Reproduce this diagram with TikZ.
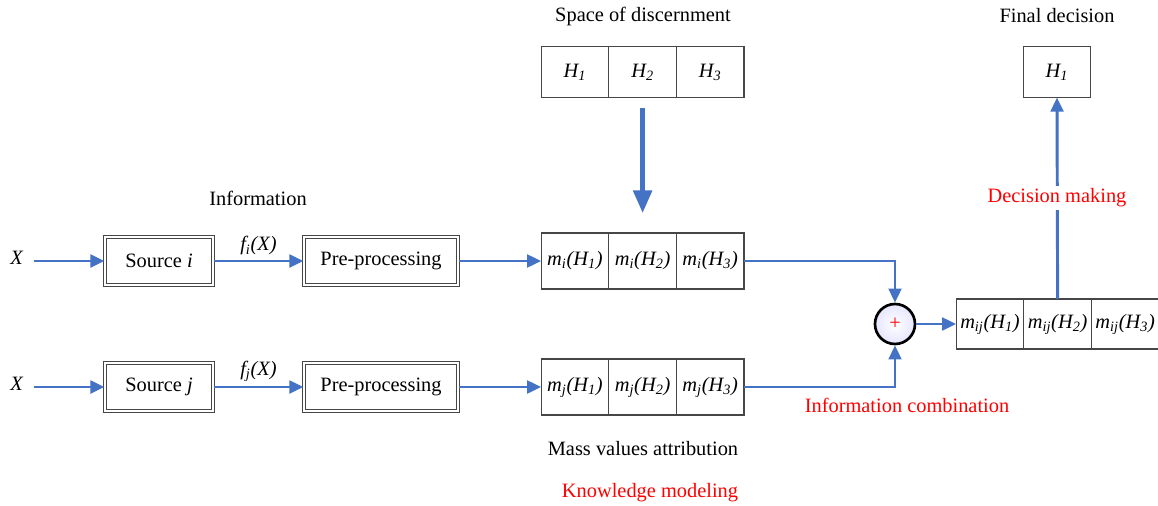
\documentclass[tikz,border=0pt]{standalone}
\usepackage{fontspec}
\setmainfont{Liberation Serif}
\usetikzlibrary{arrows.meta,positioning}

\definecolor{flowblue}{RGB}{68,114,196}
\definecolor{boxgray}{RGB}{70,70,70}

\tikzset{
  flow/.style={-{Triangle[length=10pt,width=9pt]}, line width=2.1pt, draw=flowblue},
  block/.style={rectangle, draw=boxgray, double, double distance=1.5pt, line width=0.7pt,
                minimum height=1.2cm, inner sep=2pt},
  cell/.style={rectangle, draw=boxgray, line width=0.8pt, outer sep=0pt,
               minimum width=1.69cm, minimum height=1.3cm, inner sep=1pt},
  caption/.style={inner sep=1pt},
  redcap/.style={inner sep=1pt, text=red}
}

\begin{document}
\begin{tikzpicture}[x=0.025cm, y=-0.025cm, font=\fontsize{14.5}{17}\selectfont]
    \useasboundingbox (0,0) rectangle (1158,506);

    % Eingang und Quellen
    \node[caption] (xi) at (17,258) {\textit{X}};
    \node[caption] (xj) at (17,384) {\textit{X}};
    \node[block, minimum width=2.7cm] (srci) at (159,261) {Source \textit{i}};
    \node[block, minimum width=2.7cm] (srcj) at (159,387) {Source \textit{j}};
    \node[caption] (info) at (258,198) {Information};

    % Vorverarbeitung
    \node[block, minimum width=3.85cm] (prei) at (381,261) {Pre-processing};
    \node[block, minimum width=3.85cm] (prej) at (381,387) {Pre-processing};

    % Massenwerte
    \node[cell, minimum height=1.4cm] (mi1) at (575,261) {\textit{m\textsubscript{i}(H\textsubscript{1})}};
    \node[cell, minimum height=1.4cm, right=0pt of mi1] (mi2) {\textit{m\textsubscript{i}(H\textsubscript{2})}};
    \node[cell, minimum height=1.4cm, right=0pt of mi2] (mi3) {\textit{m\textsubscript{i}(H\textsubscript{3})}};
    \node[cell, minimum height=1.4cm] (mj1) at (575,387) {\textit{m\textsubscript{j}(H\textsubscript{1})}};
    \node[cell, minimum height=1.4cm, right=0pt of mj1] (mj2) {\textit{m\textsubscript{j}(H\textsubscript{2})}};
    \node[cell, minimum height=1.4cm, right=0pt of mj2] (mj3) {\textit{m\textsubscript{j}(H\textsubscript{3})}};
    \node[caption] (mass) at (643,449) {Mass values attribution};
    \node[redcap] (know) at (650,493) {Knowledge modeling};

    % Unterscheidungsraum
    \node[cell, minimum height=1.275cm] (h1) at (575,72) {\textit{H\textsubscript{1}}};
    \node[cell, minimum height=1.275cm, right=0pt of h1] (h2) {\textit{H\textsubscript{2}}};
    \node[cell, minimum height=1.275cm, right=0pt of h2] (h3) {\textit{H\textsubscript{3}}};
    \node[caption] (space) at (643,16) {Space of discernment};

    % Kombination
    \node[circle, draw=black, line width=1.9pt, inner color=white, outer color=blue!10, minimum size=1cm, inner sep=0pt, text=red] (sum) at (895,324) {+};
    \node[redcap] (comb) at (907,405) {Information combination};
    \node[cell, minimum height=1.25cm] (mij1) at (990,324) {\textit{m\textsubscript{ij}(H\textsubscript{1})}};
    \node[cell, minimum height=1.25cm, right=0pt of mij1] (mij2) {\textit{m\textsubscript{ij}(H\textsubscript{2})}};
    \node[cell, minimum height=1.25cm, right=0pt of mij2] (mij3) {\textit{m\textsubscript{ij}(H\textsubscript{3})}};

    % Entscheidung
    \node[cell, minimum height=1.275cm] (fin) at (1057,72) {\textit{H\textsubscript{1}}};
    \node[caption] (final) at (1057,16) {Final decision};

    % Pfeile
    \draw[flow] (xi.east |- srci) ++(6pt,0) -- (srci.west);
    \draw[flow] (xj.east |- srcj) ++(6pt,0) -- (srcj.west);
    \draw[flow] (srci) -- node[above=2pt, caption] {\textit{f\textsubscript{i}(X)}} (prei);
    \draw[flow] (srcj) -- node[above=2pt, caption] {\textit{f\textsubscript{j}(X)}} (prej);
    \draw[flow] (prei) -- (mi1);
    \draw[flow] (prej) -- (mj1);
    \draw[-{Triangle[length=16pt,width=13pt]}, line width=3.2pt, flowblue, shorten <=0.25cm, shorten >=0.5cm] (h2) -- (mi2);
    \draw[flow] (mi3.east) -| (sum.north);
    \draw[flow] (mj3.east) -| (sum.south);
    \draw[flow] (sum) -- (mij1);
    \draw[flow] (mij2.north) -- (fin.south);
    \node[redcap, fill=white, inner sep=2pt] (dec) at (1057,198) {Decision making};
\end{tikzpicture}
\end{document}
